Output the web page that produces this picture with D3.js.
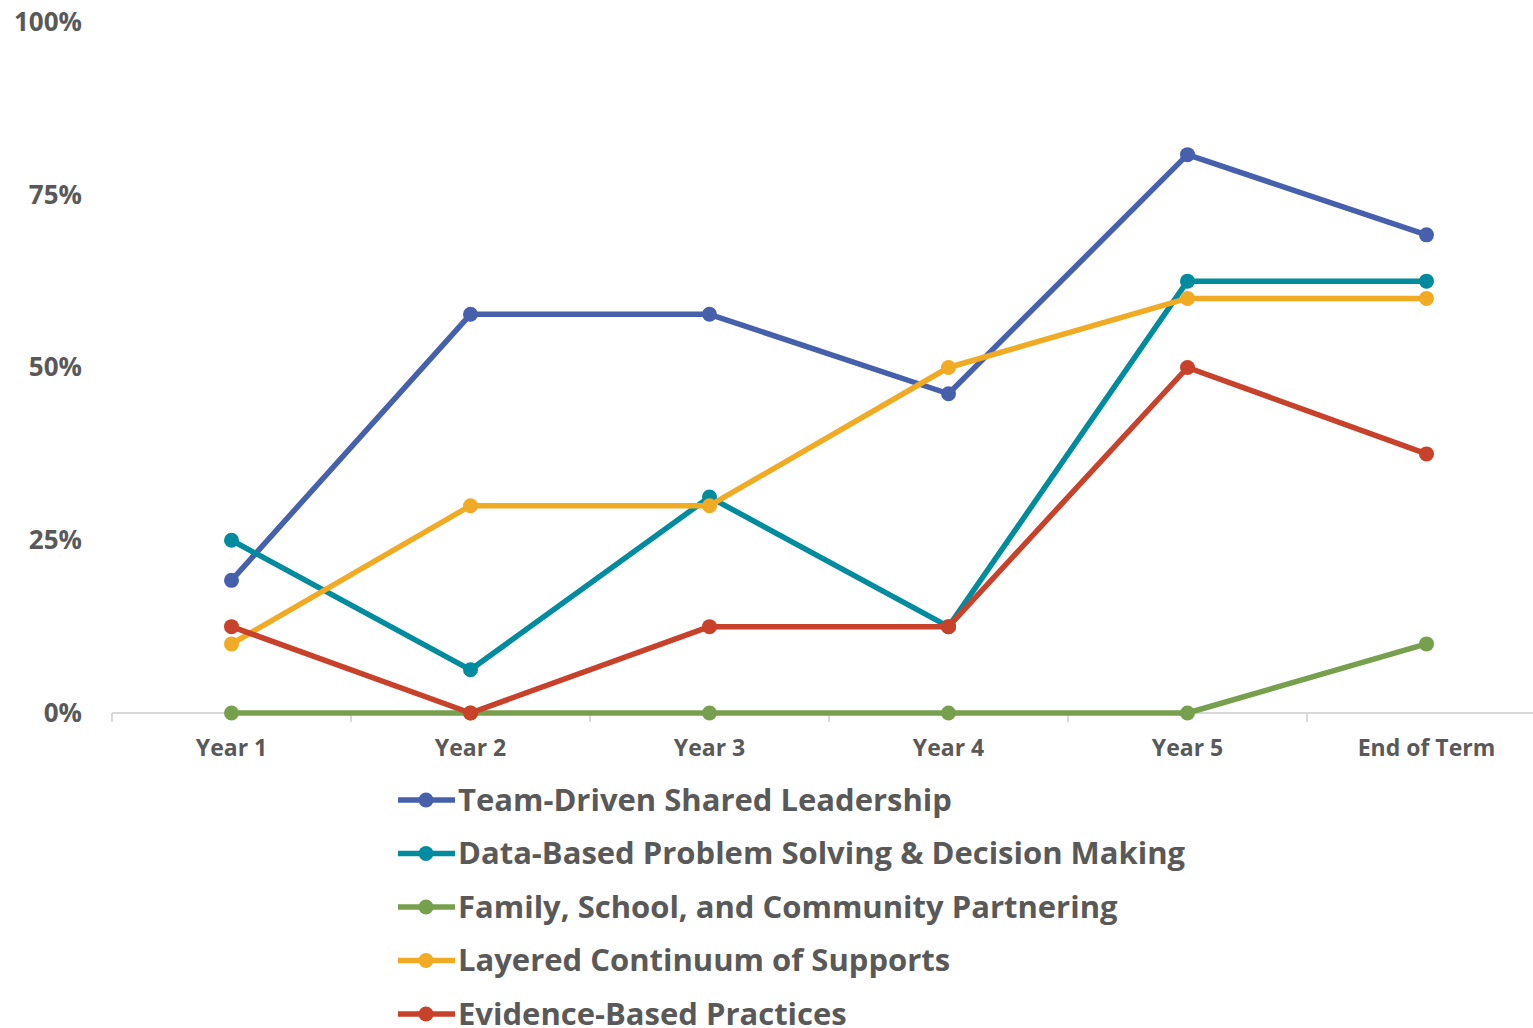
<!DOCTYPE html>
<html>
<head>
<meta charset="utf-8">
<script src="https://cdn.jsdelivr.net/npm/d3@7"></script>
<style>
  body { margin: 0; background: #fff; overflow: hidden; }
  text { font-family: "Open Sans", Lato, sans-serif; font-weight: bold; fill: #595959; }
</style>
</head>
<body>
<script>
// categories + series (share of schools, 0..1)
const categories = ["Year 1", "Year 2", "Year 3", "Year 4", "Year 5", "End of Term"];
const seriesNames = [
    "Team-Driven Shared Leadership",
    "Data-Based Problem Solving & Decision Making",
    "Family, School, and Community Partnering",
    "Layered Continuum of Supports",
    "Evidence-Based Practices"
];
const teamDriven = [0.192, 0.577, 0.577, 0.462, 0.808, 0.692];
const dataBased = [0.25, 0.0625, 0.3125, 0.125, 0.625, 0.625];
const familySchool = [0, 0, 0, 0, 0, 0.10];
const layered = [0.10, 0.30, 0.30, 0.50, 0.60, 0.60];
const evidenceBased = [0.125, 0, 0.125, 0.125, 0.50, 0.375];
const yTicks = [0, 0.25, 0.5, 0.75, 1];
const colors = ["#4660AC", "#008C9E", "#77A04E", "#F0AA24", "#C8412A"];

const allSeries = [teamDriven, dataBased, familySchool, layered, evidenceBased];

const width = 1533, height = 1028;

var svg = d3.select("body")
    .append("svg")
    .attr("width", width)
    .attr("height", height);

var x = d3.scaleBand()
    .domain(categories)
    .range([112, 1546]);

var y = d3.scaleLinear()
    .domain([0, 1])
    .range([713, 22]);

// x axis: light grey baseline + ticks pointing down
var xAxis = svg.append("g")
    .attr("transform", `translate(0,${y(0)})`)
    .call(d3.axisBottom(x).tickSize(0).tickPadding(27));
xAxis.select(".domain").remove();
xAxis.selectAll("text")
    .style("font-size", "23px")
    .attr("fill", null);

xAxis.append("line")
    .attr("x1", 112).attr("x2", 1546)
    .attr("stroke", "#d9d9d9").attr("stroke-width", 2);

let bounds = categories.map(c => x(c)).concat([x.range()[1]]);
xAxis.selectAll(".sep")
    .data(bounds)
    .enter()
    .append("line")
    .attr("x1", d => d).attr("x2", d => d)
    .attr("y1", 0).attr("y2", 9)
    .attr("stroke", "#d9d9d9").attr("stroke-width", 2);

// y axis labels only
var yAxis = svg.append("g")
    .attr("transform", "translate(82,0)")
    .call(d3.axisLeft(y).tickValues(yTicks).tickSize(0).tickPadding(0).tickFormat(d3.format(".0%")));
yAxis.select(".domain").remove();
yAxis.selectAll("text")
    .style("font-size", "26px")
    .attr("fill", null);

var line = d3.line()
    .x((d, i) => x(categories[i]) + x.bandwidth() / 2)
    .y(d => y(d));

// lines
for (let s = 0; s < allSeries.length; s++) {
    let g = svg.append("g");
    g.append("path")
        .datum(allSeries[s])
        .attr("d", line)
        .attr("fill", "none")
        .attr("stroke", colors[s])
        .attr("stroke-width", 5.5)
        .attr("stroke-linejoin", "round");

    g.selectAll("circle")
        .data(allSeries[s])
        .enter()
        .append("circle")
        .attr("cx", (d, i) => x(categories[i]) + x.bandwidth() / 2)
        .attr("cy", d => y(d))
        .attr("r", 7.5)
        .attr("fill", colors[s]);
}

// legend
var legend = svg.append("g")
    .attr("transform", "translate(398,800)");

seriesNames.forEach((name, i) => {
    let row = legend.append("g").attr("transform", `translate(0,${i * 53.5})`);
    row.append("line")
        .attr("x1", 0).attr("x2", 57)
        .attr("stroke", colors[i]).attr("stroke-width", 5.5);
    row.append("circle")
        .attr("cx", 28).attr("r", 7.5)
        .attr("fill", colors[i]);
    row.append("text")
        .attr("x", 60)
        .attr("dy", "0.35em")
        .style("font-size", "31px")
        .text(name);
});
</script>
</body>
</html>
